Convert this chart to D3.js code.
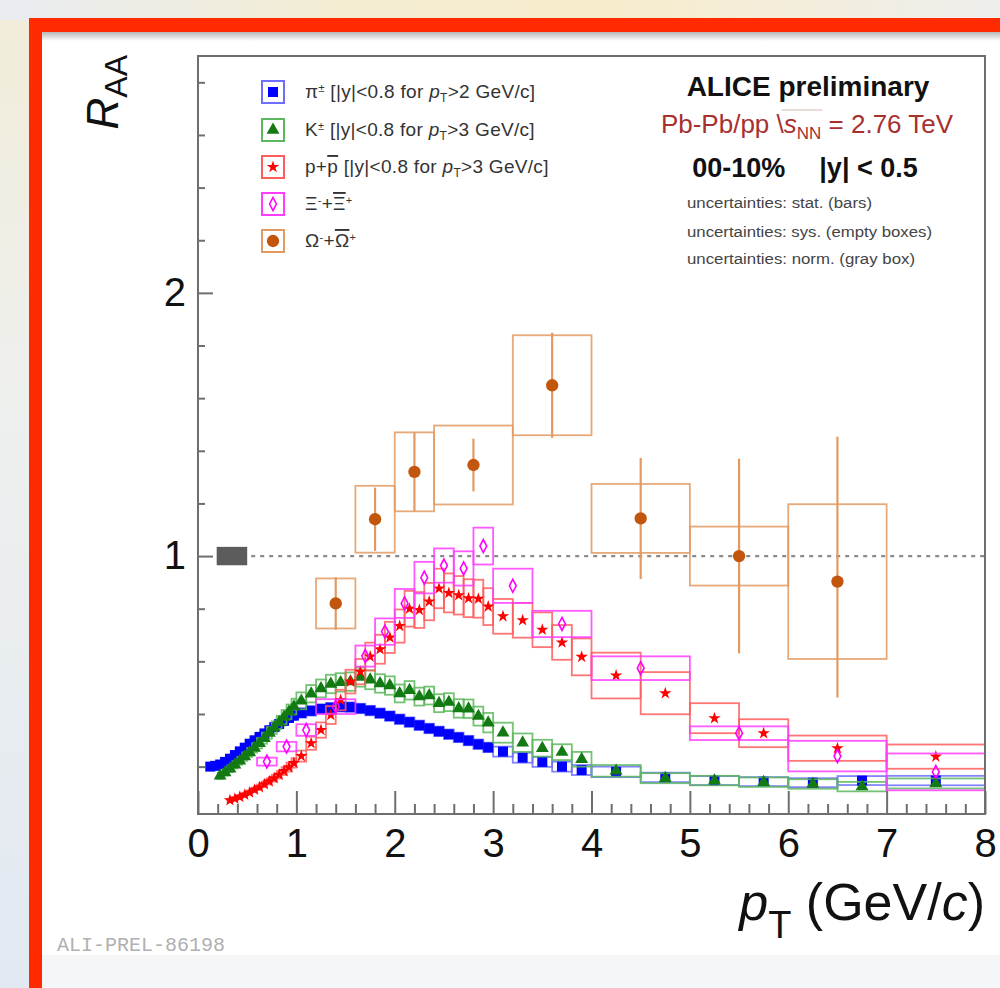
<!DOCTYPE html>
<html>
<head>
<meta charset="utf-8">
<script src="https://cdn.jsdelivr.net/npm/d3@7"></script>
<style>
  html, body { margin: 0; padding: 0; background: #edf0f4; }
  svg { display: block; font-family: 'Liberation Sans', Arial, Helvetica, sans-serif; }
  text { white-space: pre; }
</style>
</head>
<body>
<svg id="chart" width="1000" height="988"></svg>
<script>
// 数据：[pT 下限, pT 上限, R_AA, 系统误差]
const pion = [
  [0.10, 0.15, 0.200, 0.010], [0.15, 0.20, 0.203, 0.010], [0.20, 0.25, 0.208, 0.010],
  [0.25, 0.30, 0.218, 0.010], [0.30, 0.35, 0.230, 0.010], [0.35, 0.40, 0.244, 0.011],
  [0.40, 0.45, 0.258, 0.011], [0.45, 0.50, 0.272, 0.012], [0.50, 0.55, 0.287, 0.012],
  [0.55, 0.60, 0.300, 0.013], [0.60, 0.65, 0.313, 0.013], [0.65, 0.70, 0.326, 0.014],
  [0.70, 0.75, 0.338, 0.014], [0.75, 0.80, 0.350, 0.015], [0.80, 0.85, 0.362, 0.015],
  [0.85, 0.90, 0.374, 0.016], [0.90, 0.95, 0.385, 0.016], [0.95, 1.00, 0.394, 0.017],
  [1.0, 1.1, 0.404, 0.018], [1.1, 1.2, 0.412, 0.018], [1.2, 1.3, 0.419, 0.018],
  [1.3, 1.4, 0.424, 0.018], [1.4, 1.5, 0.427, 0.018], [1.5, 1.6, 0.426, 0.018],
  [1.6, 1.7, 0.421, 0.018], [1.7, 1.8, 0.413, 0.018], [1.8, 1.9, 0.403, 0.018],
  [1.9, 2.0, 0.392, 0.018], [2.0, 2.1, 0.380, 0.018], [2.1, 2.2, 0.369, 0.018],
  [2.2, 2.3, 0.357, 0.018], [2.3, 2.4, 0.345, 0.018], [2.4, 2.5, 0.334, 0.018],
  [2.5, 2.6, 0.323, 0.018], [2.6, 2.7, 0.311, 0.018], [2.7, 2.8, 0.299, 0.018],
  [2.8, 2.9, 0.285, 0.018], [2.9, 3.0, 0.273, 0.018], [3.0, 3.2, 0.257, 0.019],
  [3.2, 3.4, 0.234, 0.019], [3.4, 3.6, 0.218, 0.019], [3.6, 3.8, 0.200, 0.019],
  [3.8, 4.0, 0.187, 0.019], [4.0, 4.5, 0.180, 0.020], [4.5, 5.0, 0.159, 0.018],
  [5.0, 5.5, 0.147, 0.017], [5.5, 6.0, 0.143, 0.017], [6.0, 6.5, 0.139, 0.017],
  [6.5, 7.0, 0.147, 0.017], [7.0, 8.0, 0.147, 0.018]
]

const kaon = [
  [0.20, 0.25, 0.165, 0.012], [0.25, 0.30, 0.178, 0.012], [0.30, 0.35, 0.192, 0.013],
  [0.35, 0.40, 0.207, 0.014], [0.40, 0.45, 0.222, 0.015], [0.45, 0.50, 0.238, 0.016],
  [0.50, 0.55, 0.254, 0.017], [0.55, 0.60, 0.271, 0.018], [0.60, 0.65, 0.289, 0.020],
  [0.65, 0.70, 0.308, 0.021], [0.70, 0.75, 0.328, 0.022], [0.75, 0.80, 0.348, 0.024],
  [0.80, 0.85, 0.368, 0.025], [0.85, 0.90, 0.388, 0.027], [0.90, 0.95, 0.408, 0.028],
  [0.95, 1.00, 0.428, 0.030], [1.0, 1.1, 0.450, 0.032], [1.1, 1.2, 0.477, 0.033],
  [1.2, 1.3, 0.497, 0.034], [1.3, 1.4, 0.514, 0.035], [1.4, 1.5, 0.520, 0.035],
  [1.5, 1.6, 0.523, 0.035], [1.6, 1.7, 0.540, 0.036], [1.7, 1.8, 0.530, 0.036],
  [1.8, 1.9, 0.516, 0.035], [1.9, 2.0, 0.508, 0.035], [2.0, 2.1, 0.478, 0.034],
  [2.1, 2.2, 0.490, 0.035], [2.2, 2.3, 0.466, 0.034], [2.3, 2.4, 0.470, 0.034],
  [2.4, 2.5, 0.441, 0.034], [2.5, 2.6, 0.445, 0.034], [2.6, 2.7, 0.421, 0.035],
  [2.7, 2.8, 0.420, 0.035], [2.8, 2.9, 0.392, 0.036], [2.9, 3.0, 0.367, 0.037],
  [3.0, 3.2, 0.329, 0.038], [3.2, 3.4, 0.291, 0.035], [3.4, 3.6, 0.270, 0.032],
  [3.6, 3.8, 0.255, 0.030], [3.8, 4.0, 0.228, 0.028], [4.0, 4.5, 0.184, 0.022],
  [4.5, 5.0, 0.156, 0.019], [5.0, 5.5, 0.147, 0.018], [5.5, 6.0, 0.141, 0.018],
  [6.0, 6.5, 0.134, 0.018], [6.5, 7.0, 0.124, 0.018], [7.0, 8.0, 0.136, 0.019]
]

const proton = [
  [0.30, 0.35, 0.072, 0.006], [0.35, 0.40, 0.078, 0.006], [0.40, 0.45, 0.085, 0.007],
  [0.45, 0.50, 0.093, 0.008], [0.50, 0.55, 0.102, 0.008], [0.55, 0.60, 0.112, 0.009],
  [0.60, 0.65, 0.122, 0.010], [0.65, 0.70, 0.133, 0.011], [0.70, 0.75, 0.144, 0.012],
  [0.75, 0.80, 0.156, 0.013], [0.80, 0.85, 0.169, 0.014], [0.85, 0.90, 0.183, 0.015],
  [0.90, 0.95, 0.198, 0.017], [0.95, 1.00, 0.214, 0.018], [1.0, 1.1, 0.240, 0.021],
  [1.1, 1.2, 0.289, 0.025], [1.2, 1.3, 0.339, 0.029], [1.3, 1.4, 0.396, 0.034],
  [1.4, 1.5, 0.453, 0.039], [1.5, 1.6, 0.523, 0.045], [1.6, 1.7, 0.561, 0.048],
  [1.7, 1.8, 0.618, 0.053], [1.8, 1.9, 0.646, 0.055], [1.9, 2.0, 0.691, 0.059],
  [2.0, 2.1, 0.734, 0.063], [2.1, 2.2, 0.800, 0.068], [2.2, 2.3, 0.795, 0.068],
  [2.3, 2.4, 0.827, 0.071], [2.4, 2.5, 0.877, 0.075], [2.5, 2.6, 0.860, 0.074],
  [2.6, 2.7, 0.851, 0.073], [2.7, 2.8, 0.840, 0.072], [2.8, 2.9, 0.838, 0.072],
  [2.9, 3.0, 0.808, 0.070], [3.0, 3.2, 0.771, 0.066], [3.2, 3.4, 0.756, 0.066],
  [3.4, 3.6, 0.720, 0.066], [3.6, 3.8, 0.672, 0.066], [3.8, 4.0, 0.617, 0.070],
  [4.0, 4.5, 0.546, 0.087], [4.5, 5.0, 0.479, 0.080], [5.0, 5.5, 0.384, 0.057],
  [5.5, 6.0, 0.327, 0.053], [6.0, 7.0, 0.270, 0.048], [7.0, 8.0, 0.238, 0.046]
]

const xi = [
  [0.6, 0.8, 0.219, 0.015], [0.8, 1.0, 0.276, 0.018], [1.0, 1.2, 0.339, 0.022],
  [1.2, 1.6, 0.428, 0.028], [1.6, 1.8, 0.620, 0.040], [1.8, 2.0, 0.713, 0.050],
  [2.0, 2.2, 0.820, 0.055], [2.2, 2.4, 0.918, 0.060], [2.4, 2.6, 0.964, 0.065],
  [2.6, 2.8, 0.953, 0.065], [2.8, 3.0, 1.038, 0.070], [3.0, 3.4, 0.887, 0.065],
  [3.4, 4.0, 0.742, 0.050], [4.0, 5.0, 0.574, 0.045], [5.0, 6.0, 0.327, 0.026],
  [6.0, 7.0, 0.240, 0.058], [7.0, 8.0, 0.180, 0.070]
]

// Omega：[pT 下限, pT 上限, R_AA, 系统误差, 统计误差下, 统计误差上]
const omega = [
  [1.2, 1.6, 0.820, 0.095, 0.10, 0.10],
  [1.6, 2.0, 1.140, 0.127, 0.12, 0.12],
  [2.0, 2.4, 1.320, 0.150, 0.15, 0.15],
  [2.4, 3.2, 1.346, 0.150, 0.10, 0.10],
  [3.2, 4.0, 1.649, 0.190, 0.20, 0.20],
  [4.0, 5.0, 1.143, 0.131, 0.23, 0.23],
  [5.0, 6.0, 1.000, 0.112, 0.37, 0.37],
  [6.0, 7.0, 0.903, 0.294, 0.44, 0.55]
]

// 归一化误差 (灰色方块)
const normBox = { pt: [0.19, 0.50], val: 1, err: 0.035 }

const xMajorTicks = [0, 1, 2, 3, 4, 5, 6, 7, 8]
const yMajorTicks = [1, 2]

const sup = t => ({ t, size: 11, shift: '55%' })
const subT = { t: 'T', size: 12, shift: '-35%' }
const species = [
  { name: 'pion', data: pion, mark: '#0000ff', box: '#6f6fff', shape: 'square',
    label: [{ t: 'π' }, sup('±'), { t: ' [|y|<0.8 for ' }, { t: 'p', i: true }, subT, { t: '>2 GeV/c]' }] },
  { name: 'kaon', data: kaon, mark: '#137a13', box: '#5cb85c', shape: 'triangle',
    label: [{ t: 'K' }, sup('±'), { t: ' [|y|<0.8 for ' }, { t: 'p', i: true }, subT, { t: '>3 GeV/c]' }] },
  { name: 'proton', data: proton, mark: '#ff0000', box: '#ff5c5c', shape: 'star',
    label: [{ t: 'p+' }, { t: 'p', over: true }, { t: ' [|y|<0.8 for ' }, { t: 'p', i: true }, subT, { t: '>3 GeV/c]' }] },
  { name: 'xi', data: xi, mark: '#ff00ff', box: '#ff3cff', shape: 'diamond',
    label: [{ t: 'Ξ' }, sup('-'), { t: '+' }, { t: 'Ξ', over: true }, sup('+')] },
  { name: 'omega', data: omega, mark: '#c2560c', box: '#e29a62', shape: 'circle',
    label: [{ t: 'Ω' }, sup('-'), { t: '+' }, { t: 'Ω', over: true }, sup('+')] }
]

const svg = d3.select('#chart')

// 背景：模糊幻灯片边缘 + 红框
const defs = svg.append('defs')
const topGrad = defs.append('linearGradient').attr('id', 'top-grad')
topGrad.append('stop').attr('offset', '0%').attr('stop-color', '#e8ecf1')
topGrad.append('stop').attr('offset', '35%').attr('stop-color', '#f4edd2')
topGrad.append('stop').attr('offset', '60%').attr('stop-color', '#f7eccb')
topGrad.append('stop').attr('offset', '100%').attr('stop-color', '#eeeeec')
const leftGrad = defs.append('linearGradient').attr('id', 'left-grad')
  .attr('x1', 0).attr('y1', 0).attr('x2', 0).attr('y2', 1)
leftGrad.append('stop').attr('offset', '0%').attr('stop-color', '#f1ecd8')
leftGrad.append('stop').attr('offset', '40%').attr('stop-color', '#eef0ee')
leftGrad.append('stop').attr('offset', '100%').attr('stop-color', '#e2e9f2')
const shadowGrad = defs.append('linearGradient').attr('id', 'shadow-grad')
  .attr('x1', 0).attr('y1', 0).attr('x2', 0).attr('y2', 1)
shadowGrad.append('stop').attr('offset', '0%').attr('stop-color', '#b8b8b8')
shadowGrad.append('stop').attr('offset', '100%').attr('stop-color', '#ffffff')

svg.append('rect').attr('width', 1000).attr('height', 988).attr('fill', 'url(#left-grad)')
svg.append('rect').attr('width', 1000).attr('height', 20).attr('fill', 'url(#top-grad)')
svg.append('rect').attr('x', 29).attr('y', 18).attr('width', 1000).attr('height', 1000).attr('fill', '#ff2a00')
svg.append('rect').attr('x', 42).attr('y', 32).attr('width', 1000).attr('height', 923).attr('fill', '#ffffff')
svg.append('rect').attr('x', 42).attr('y', 955).attr('width', 1000).attr('height', 40).attr('fill', '#f5f6f8')
svg.append('rect').attr('x', 42).attr('y', 32).attr('width', 1000).attr('height', 9).attr('fill', 'url(#shadow-grad)')

// 比例尺
const x = d3.scaleLinear().domain([0, 8]).range([198, 985])
const y = d3.scaleLinear().domain([0.02, 2.9]).range([814, 56])

const plot = svg.append('g').attr('class', 'plot')

// 归一化误差方块 + 虚线 R=1
plot.append('rect')
  .attr('x', x(normBox.pt[0]))
  .attr('y', y(normBox.val + normBox.err))
  .attr('width', x(normBox.pt[1]) - x(normBox.pt[0]))
  .attr('height', y(normBox.val - normBox.err) - y(normBox.val + normBox.err))
  .attr('fill', '#5c5c5c')

plot.append('line')
  .attr('x1', x(normBox.pt[1]) + 4)
  .attr('x2', x(8))
  .attr('y1', y(1))
  .attr('y2', y(1))
  .attr('stroke', '#8a8a8a')
  .attr('stroke-width', 2.2)
  .attr('stroke-dasharray', '4 5')

// 标记形状
function markerPath(shape) {
  if (shape === 'square') return d3.symbol(d3.symbolSquare, 100)()
  if (shape === 'triangle') return d3.symbol(d3.symbolTriangle, 72)()
  if (shape === 'star') return d3.symbol(d3.symbolStar, 48)()
  if (shape === 'circle') return d3.symbol(d3.symbolCircle, 120)()
  return 'M0,-6.5L3.4,0L0,6.5L-3.4,0Z'
}

function drawMarker(sel, s) {
  sel.append('path')
    .attr('d', markerPath(s.shape))
    .attr('fill', s.shape === 'diamond' ? 'none' : s.mark)
    .attr('stroke', s.shape === 'diamond' ? s.mark : 'none')
    .attr('stroke-width', 1.6)
}

species.forEach(s => {
  const g = plot.append('g').attr('class', s.name)

  // 系统误差（空心方框）
  g.selectAll('rect.sys')
    .data(s.data)
    .join('rect')
    .attr('class', 'sys')
    .attr('x', d => x(d[0]))
    .attr('y', d => y(d[2] + d[3]))
    .attr('width', d => x(d[1]) - x(d[0]))
    .attr('height', d => y(d[2] - d[3]) - y(d[2] + d[3]))
    .attr('fill', 'none')
    .attr('stroke', s.box)
    .attr('stroke-width', 1.8)
    .attr('stroke-opacity', 0.85)

  // 统计误差（竖线）
  if (s.name === 'omega') {
    g.selectAll('line.stat')
      .data(s.data)
      .join('line')
      .attr('class', 'stat')
      .attr('x1', d => x((d[0] + d[1]) / 2))
      .attr('x2', d => x((d[0] + d[1]) / 2))
      .attr('y1', d => y(d[2] + d[5]))
      .attr('y2', d => y(d[2] - d[4]))
      .attr('stroke', s.box)
      .attr('stroke-width', 2.2)
  }

  g.selectAll('g.pt')
    .data(s.data)
    .join('g')
    .attr('class', 'pt')
    .attr('transform', d => `translate(${x((d[0] + d[1]) / 2)},${y(d[2])})`)
    .each(function () { drawMarker(d3.select(this), s) })
})

// 坐标轴
const axisColor = '#6e6e6e'
function styleAxis(g, fontSize) {
  g.select('.domain').remove()
  g.selectAll('.tick line').attr('stroke', axisColor).attr('stroke-width', 2)
  g.selectAll('.tick text')
    .attr('font-size', fontSize)
    .attr('font-family', "'Liberation Sans', Arial, sans-serif")
    .attr('fill', '#111')
}

const minorX = d3.range(0, 8.001, 0.2).filter(v => Math.abs(v - Math.round(v)) > 0.01)
const minorY = d3.range(0.2, 2.81, 0.2).filter(v => Math.abs(v - Math.round(v)) > 0.01)

svg.append('g')
  .attr('transform', `translate(0,${y.range()[0]})`)
  .call(d3.axisBottom(x).tickValues(minorX).tickSize(-10).tickFormat(''))
  .call(g => styleAxis(g, 0))
svg.append('g')
  .attr('transform', `translate(0,${y.range()[0]})`)
  .call(d3.axisBottom(x).tickValues(xMajorTicks).tickSize(-23).tickPadding(15).tickFormat(d3.format('d')))
  .call(g => styleAxis(g, 40))

svg.append('g')
  .attr('transform', `translate(${x.range()[0]},0)`)
  .call(d3.axisLeft(y).tickValues(minorY).tickSize(-7).tickFormat(''))
  .call(g => styleAxis(g, 0))
svg.append('g')
  .attr('transform', `translate(${x.range()[0]},0)`)
  .call(d3.axisLeft(y).tickValues(yMajorTicks).tickSize(-15).tickPadding(12).tickFormat(d3.format('d')))
  .call(g => styleAxis(g, 40))

// 图框
svg.append('rect')
  .attr('x', x.range()[0])
  .attr('y', y.range()[1])
  .attr('width', x.range()[1] - x.range()[0])
  .attr('height', y.range()[0] - y.range()[1])
  .attr('fill', 'none')
  .attr('stroke', axisColor)
  .attr('stroke-width', 2)

// 富文本（上下标）
function richText(parent, px, py, parts, attrs) {
  const t = parent.append('text').attr('x', px).attr('y', py)
  Object.entries(attrs || {}).forEach(([k, v]) => t.attr(k, v))
  parts.forEach(p => {
    const s = t.append('tspan').text(p.t)
    if (p.i) s.attr('font-style', 'italic')
    if (p.size) s.attr('font-size', p.size)
    if (p.shift) s.attr('baseline-shift', p.shift)
    if (p.over) s.attr('text-decoration', 'overline')
    if (p.dx) s.attr('dx', p.dx)
  })
  return t
}

// 轴标题
richText(svg, 985, 920, [
  { t: 'p', i: true }, { t: 'T', size: 38, shift: '-18px' }, { t: ' (GeV/' }, { t: 'c', i: true }, { t: ')' }
], { 'text-anchor': 'end', 'font-size': 52, fill: '#111' })

richText(svg, 0, 0, [
  { t: 'R', i: true }, { t: 'AA', size: 32, shift: '-9px' }
], { 'text-anchor': 'end', 'font-size': 44, fill: '#111', transform: 'translate(118,55) rotate(-90)' })

// 图例
const legendRows = [92, 130, 167, 204, 241]
species.forEach((s, i) => {
  const cy = legendRows[i]
  const lg = svg.append('g').attr('transform', `translate(273,${cy})`)
  lg.append('rect')
    .attr('x', -11).attr('y', -11).attr('width', 22).attr('height', 22)
    .attr('fill', 'none').attr('stroke', s.box).attr('stroke-width', 2)
  drawMarker(lg, s)
  richText(svg, 305, cy + 6, s.label, { 'font-size': 19, 'letter-spacing': 0.3, fill: '#333' })
})

// 右上角说明
richText(svg, 808, 96, [{ t: 'ALICE preliminary' }],
  { 'text-anchor': 'middle', 'font-size': 28, 'font-weight': 'bold', fill: '#111' })

const energy = richText(svg, 807, 133, [
  { t: 'Pb-Pb/pp \\' }, { t: 's', i: true }, { t: 'NN', size: 17, shift: '-6px' }, { t: ' = 2.76 TeV' }
], { 'text-anchor': 'middle', 'font-size': 26, fill: '#a8302f' })
// 根号上的横线
const sSpan = energy.selectAll('tspan').nodes()
const ext1 = sSpan[1].getExtentOfChar(0)
const nnEnd = sSpan[2].getExtentOfChar(1)
svg.append('line')
  .attr('x1', ext1.x - 2).attr('x2', nnEnd.x + nnEnd.width + 1)
  .attr('y1', 110).attr('y2', 110)
  .attr('stroke', '#d9b8b8').attr('stroke-width', 1.2)

richText(svg, 805, 177, [{ t: '00-10%' }, { t: '|y| < 0.5', dx: 34 }],
  { 'text-anchor': 'middle', 'font-size': 27, 'font-weight': 'bold', fill: '#111' })

const notes = ['uncertainties: stat. (bars)', 'uncertainties: sys. (empty boxes)', 'uncertainties: norm. (gray box)']
const noteY = [208, 237, 264]
const noteW = [185, 245, 228]
notes.forEach((n, i) => {
  svg.append('text')
    .attr('x', 687)
    .attr('y', noteY[i])
    .attr('font-size', 14)
    .attr('textLength', noteW[i])
    .attr('lengthAdjust', 'spacingAndGlyphs')
    .attr('fill', '#444')
    .text(n)
})

// 编号水印
svg.append('text')
  .attr('x', 57)
  .attr('y', 951)
  .attr('font-family', "'Liberation Mono', 'DejaVu Sans Mono', monospace")
  .attr('font-size', 20)
  .attr('fill', '#b0b0b0')
  .text('ALI-PREL-86198')
</script>
</body>
</html>
